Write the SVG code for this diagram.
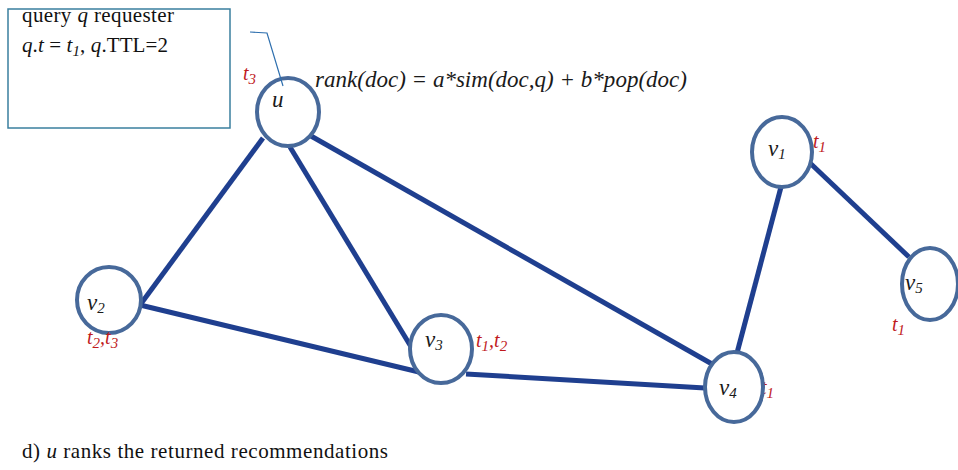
<svg xmlns="http://www.w3.org/2000/svg" width="958" height="470" viewBox="0 0 958 470">
<style>
.edge{stroke:#1f3f8f;stroke-width:5;stroke-linecap:butt;fill:none}
.node{fill:#ffffff;stroke:#47699a;stroke-width:4}
.lbl{font-family:"Liberation Serif",serif;font-style:italic;font-size:23px;fill:#1a1a1a}
.sub{font-size:15px}
.t{font-family:"Liberation Serif",serif;font-style:italic;font-size:20px;fill:#c0191c}
.txt{font-family:"Liberation Serif",serif;font-size:21px;fill:#111}
</style>
<rect width="958" height="470" fill="#ffffff"/>
<g id="connectors">
<line class="edge" x1="263" y1="138" x2="140" y2="305"/>
<line class="edge" x1="290" y1="147" x2="413" y2="350"/>
<line class="edge" x1="311" y1="136" x2="712" y2="364"/>
<line class="edge" x1="140" y1="305" x2="419" y2="372"/>
<line class="edge" x1="466" y1="374" x2="705" y2="388"/>
<line class="edge" x1="781" y1="187" x2="737" y2="353"/>
<line class="edge" x1="810" y1="163" x2="909" y2="257"/>
</g>
<g id="requester-box">
<rect x="8" y="9" width="222" height="119" fill="#ffffff" stroke="#3a7f9e" stroke-width="1.5"/>
<text class="txt" x="22" y="22" textLength="152" lengthAdjust="spacing">query <tspan font-style="italic">q</tspan> requester</text>
<text class="txt" x="22" y="52" textLength="146" lengthAdjust="spacing"><tspan font-style="italic">q</tspan>.<tspan font-style="italic">t</tspan> = <tspan font-style="italic">t</tspan><tspan font-style="italic" font-size="15" dy="4">1</tspan><tspan dy="-4">, </tspan><tspan font-style="italic">q</tspan>.TTL=2</text>
</g>
<g id="node-u">
<ellipse class="node" cx="288" cy="112" rx="31" ry="34"/>
<text class="lbl" x="272" y="107">u</text>
<text class="t" x="243" y="80">t<tspan class="sub" dy="4">3</tspan></text>
</g>
<g id="callout">
<polyline points="250,32 267,33 283,86" fill="none" stroke="#2e6fae" stroke-width="1.2"/>
</g>
<text id="rank-formula" class="lbl" x="315" y="87" font-size="22" textLength="372" lengthAdjust="spacing">rank(doc) = a*sim(doc,q) + b*pop(doc)</text>
<g id="node-v1">
<ellipse class="node" cx="782" cy="152" rx="30" ry="35"/>
<text class="lbl" x="768" y="156">v<tspan class="sub" dy="3">1</tspan></text>
<text class="t" x="813" y="148">t<tspan class="sub" dy="4">1</tspan></text>
</g>
<g id="node-v2">
<ellipse class="node" cx="109" cy="300" rx="32" ry="33"/>
<text class="lbl" x="87" y="310">v<tspan class="sub" dy="3">2</tspan></text>
<text class="t" x="87" y="344">t<tspan class="sub" dy="4">2</tspan><tspan dy="-4">,t</tspan><tspan class="sub" dy="4">3</tspan></text>
</g>
<g id="node-v3">
<ellipse class="node" cx="441" cy="349" rx="31" ry="34"/>
<text class="lbl" x="425" y="347">v<tspan class="sub" dy="3">3</tspan></text>
<text class="t" x="476" y="347">t<tspan class="sub" dy="4">1</tspan><tspan dy="-4">,t</tspan><tspan class="sub" dy="4">2</tspan></text>
</g>
<g id="node-v4">
<text class="t" x="761" y="394">t<tspan class="sub" dy="4">1</tspan></text>
<ellipse class="node" cx="734" cy="387" rx="29" ry="35"/>
<text class="lbl" x="719" y="395">v<tspan class="sub" dy="3">4</tspan></text>
</g>
<g id="node-v5">
<ellipse class="node" cx="930" cy="284" rx="28" ry="36"/>
<text class="lbl" x="905" y="290">v<tspan class="sub" dy="3">5</tspan></text>
<text class="t" x="892" y="331">t<tspan class="sub" dy="4">1</tspan></text>
</g>
<text id="caption" class="txt" x="22" y="458" font-size="18" textLength="366" lengthAdjust="spacing">d) <tspan font-style="italic">u</tspan> ranks the returned recommendations</text>
</svg>
